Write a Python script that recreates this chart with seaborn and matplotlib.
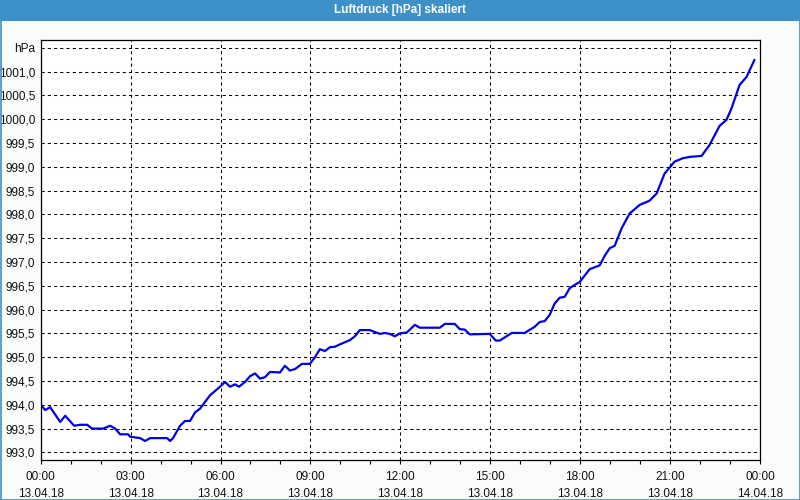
import matplotlib
matplotlib.use("Agg")
import matplotlib.pyplot as plt
import matplotlib.dates as mdates
from matplotlib.patches import Rectangle
import seaborn as sns
import pandas as pd

# minutes after 13.04.18 00:00
minutes = [0, 9, 19, 39, 49, 67, 79, 93, 103, 125, 139, 149, 159, 175, 179, 199, 209, 219,
           253, 259, 265, 279, 289, 299, 309, 319, 339, 359, 369, 379, 389, 397, 409, 419,
           429, 439, 449, 459, 479, 489, 499, 509, 523, 539, 549, 559, 569, 579, 589, 599,
           619, 629, 639, 659, 669, 679, 689, 699, 709, 719, 733, 749, 759, 799, 809, 829,
           839, 849, 859, 899, 911, 919, 943, 969, 989, 999, 1009, 1019, 1029, 1039, 1049,
           1059, 1069, 1079, 1099, 1119, 1129, 1139, 1149, 1163, 1179, 1199, 1219, 1233,
           1249, 1269, 1285, 1299, 1323, 1339, 1359, 1373, 1383, 1399, 1413, 1429]
pressure = [994.00, 993.89, 993.95, 993.64, 993.77, 993.56, 993.58, 993.58, 993.50, 993.50,
            993.56, 993.50, 993.38, 993.38, 993.33, 993.30, 993.24, 993.30, 993.30, 993.24,
            993.30, 993.56, 993.66, 993.66, 993.84, 993.92, 994.20, 994.38, 994.48, 994.38,
            994.43, 994.38, 994.48, 994.60, 994.66, 994.55, 994.58, 994.69, 994.68, 994.82,
            994.72, 994.75, 994.86, 994.86, 995.00, 995.17, 995.13, 995.21, 995.22, 995.27,
            995.36, 995.44, 995.57, 995.57, 995.53, 995.49, 995.51, 995.49, 995.44, 995.50,
            995.52, 995.68, 995.62, 995.62, 995.70, 995.70, 995.59, 995.58, 995.48, 995.49,
            995.35, 995.35, 995.51, 995.51, 995.64, 995.74, 995.76, 995.89, 996.13, 996.25,
            996.27, 996.45, 996.52, 996.58, 996.85, 996.93, 997.13, 997.29, 997.34, 997.71,
            998.02, 998.20, 998.29, 998.44, 998.86, 999.11, 999.18, 999.21, 999.23, 999.46,
            999.86, 999.99, 1000.23, 1000.72, 1000.89, 1001.25]
y_ticks = [993.0, 993.5, 994.0, 994.5, 995.0, 995.5, 996.0, 996.5, 997.0, 997.5, 998.0,
           998.5, 999.0, 999.5, 1000.0, 1000.5, 1001.0, 1001.5]
y_tick_labels = ["993,0", "993,5", "994,0", "994,5", "995,0", "995,5", "996,0", "996,5",
                 "997,0", "997,5", "998,0", "998,5", "999,0", "999,5", "1000,0", "1000,5",
                 "1001,0", "hPa"]
title = "Luftdruck [hPa] skaliert"
start = "2018-04-13 00:00"
end = "2018-04-14 00:00"

sns.set_theme(style="white")
plt.rcParams['font.family'] = ['Liberation Sans', 'DejaVu Sans']

df = pd.DataFrame({
    "time": pd.Timestamp(start) + pd.to_timedelta(minutes, unit="min"),
    "pressure": pressure,
})

bg = "#f9fcfa"
fig = plt.figure(figsize=(8, 5), dpi=100, facecolor=bg)
ax = fig.add_axes([40.7 / 800, 40 / 500, (760 - 40.7) / 800, (460 - 40.3) / 500])
ax.set_facecolor("white")

sns.lineplot(data=df, x="time", y="pressure", ax=ax, color="#0000e6", linewidth=1.6)

ax.set_xlim(pd.Timestamp(start), pd.Timestamp(end))
ax.set_ylim(992.84, 1001.66)
ax.set_yticks(y_ticks)
ax.set_yticklabels(y_tick_labels)
ax.xaxis.set_major_locator(mdates.HourLocator(byhour=range(0, 24, 3)))
ax.xaxis.set_minor_locator(mdates.HourLocator())
ax.xaxis.set_major_formatter(mdates.DateFormatter("%H:%M\n%d.%m.%y"))
ax.set_xlabel("")
ax.set_ylabel("")

ax.grid(True, which="major", color="black", linestyle=(0, (3, 3)), linewidth=0.75)
ax.tick_params(axis="x", which="both", direction="out", length=3, width=0.8,
               color="black", labelsize=8.5, labelcolor="#111111", pad=5, bottom=True)
ax.tick_params(axis="y", which="both", length=0, labelsize=8.5, labelcolor="#111111", pad=4)
for lab in ax.get_xticklabels():
    lab.set_linespacing(1.5)
for s in ax.spines.values():
    s.set_color("black")
    s.set_linewidth(0.9)
    s.set_visible(True)

# title bar and window border
fig.patches.append(Rectangle((0, 1 - 20.5 / 500), 1, 20.5 / 500, transform=fig.transFigure,
                             facecolor="#3d90c8", edgecolor="none", zorder=0))
fig.patches.append(Rectangle((0.5 / 800, 0.5 / 500), 1 - 1 / 800, 1 - 1 / 500,
                             transform=fig.transFigure, facecolor="none",
                             edgecolor="#3d90c8", linewidth=1.2, zorder=1))
fig.text(0.5, 1 - 10.5 / 500, title, ha="center", va="center", color="white",
         fontsize=8.5, fontweight="bold")

fig.savefig("out.png", dpi=100, facecolor=bg)
